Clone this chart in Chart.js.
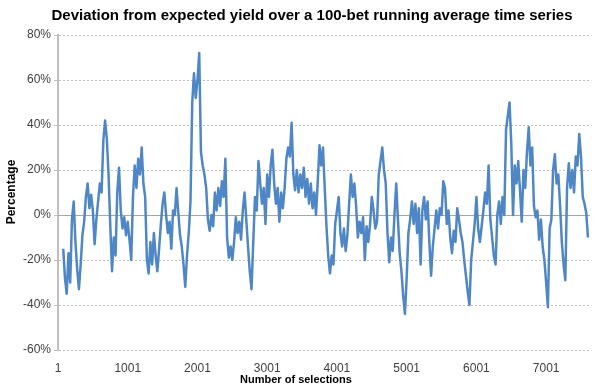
<!DOCTYPE html>
<html>
<head>
<meta charset="utf-8">
<script src="https://cdn.jsdelivr.net/npm/chart.js@4/dist/chart.umd.min.js"></script>
<style>
    html, body { margin: 0; padding: 0; background: #fff; }
    #chart { display: block; }
</style>
</head>
<body>
<canvas id="chart" width="600" height="390"></canvas>
<script>
// 100-bet running average, one reading every 25 selections starting at selection 76
const firstSelection = 76;
const selectionStep = 25;
const deviation = [
    -15, -28, -35, -17, -30, -2, 6, -12, -24, -33,
    -22, -9, -3, 8, 14, 3, 9, 2, -13, -2,
    6, 14, 10, 33, 42, 34, 18, -5, -25, -10,
    -18, 10, 21, 2, -6, -1, -9, -3, -11, -20,
    8, 22, 12, 25, 18, 30, 14, 8, -20, -26,
    -12, -22, -8, -18, -25, -15, -4, 5, 10, 0,
    -8, -3, -15, 2, 0, 12, 1, -9, -14, -22,
    -32, -18, -8, 6, 50, 63, 52, 60, 72, 28,
    22, 18, 12, -2, -7, 0, -5, 10, 2, 12,
    4, 15, 8, 25, -10, -19, -14, -20, -12, -1,
    -8, -3, -11, 2, 10, -2, -14, -25, -33, -12,
    8, 2, 24, 14, 5, 12, -4, 18, 8, 22,
    29, 14, 5, 12, -3, 10, 3, 12, 25, 30,
    26, 41, 18, 11, 20, 10, 18, 12, 21, 8,
    16, 5, 14, 3, 10, 0, 15, 31, 22, 30,
    12, -5, -18, -26, -18, -22, -4, 2, 8, -8,
    -14, -6, -16, -9, 5, 18, 8, 14, 4, -10,
    -3, -8, -1, -20, -5, -12, -4, 8, 2, -6,
    -3, 18, 24, 30, 20, 14, -8, -21, -10, -16,
    0, 14, -2, -17, -25, -36, -44, -28, -8, -2,
    6, -4, 5, -8, 3, -22, 2, 8, -2, 6,
    -12, -27, -14, -6, 2, -6, 3, 0, 15, 12,
    -4, 2, -10, -17, -7, -12, 3, -2, -8, -12,
    -20, -27, -34, -40, -20, -12, -4, 8, -6, -12,
    -5, 2, 10, 5, 22, -2, -10, -18, -22, 0,
    6, -4, 8, 0, 38, 44, 50, 32, 0, 22,
    14, 24, 11, -3, 20, 12, 28, 39, 22, 30,
    4, -1, 2, -11, -2, -14, -20, -30, -41, -6,
    -2, 20, 27, 14, 18, 4, -12, -22, -29, 12,
    23, 12, 20, 10, 26, 22, 36, 26, 8, 5,
    1, -10
];
const xTickValues = [1, 1001, 2001, 3001, 4001, 5001, 6001, 7001];
const yTickValues = [-60, -40, -20, 0, 20, 40, 60, 80];
const lastCategory = 7630;

const chartTitle = 'Deviation from expected yield over a 100-bet running average time series';
const xTitle = 'Number of selections';
const yTitle = 'Percentage';

const points = deviation.map((v, i) => ({ x: firstSelection + i * selectionStep, y: v }));

const LABEL_FONT = '"Liberation Sans", Arial, Helvetica, sans-serif';
const GRID_GREY = '#bfbfbf';

// titles are placed the way the spreadsheet placed them, not centred on the plot
const titlesPlugin = {
    id: 'titles',
    afterDraw(chart) {
        const ctx = chart.ctx;
        ctx.save();
        ctx.fillStyle = '#000';
        ctx.textAlign = 'center';
        ctx.textBaseline = 'middle';
        ctx.font = 'bold 15px ' + LABEL_FONT;
        ctx.fillText(chartTitle, 312, 16);
        ctx.font = 'bold 11px ' + LABEL_FONT;
        ctx.fillText(xTitle, 296, 380);
        ctx.font = 'bold 12px ' + LABEL_FONT;
        ctx.translate(12, 192);
        ctx.rotate(-Math.PI / 2);
        ctx.fillText(yTitle, 0, 0);
        ctx.restore();
    }
};

// x axis crosses at 0%
const zeroLinePlugin = {
    id: 'zeroLine',
    beforeDatasetsDraw(chart) {
        const { ctx, chartArea, scales } = chart;
        const y = Math.round(scales.y.getPixelForValue(0)) + 0.5;
        ctx.save();
        ctx.strokeStyle = '#a6a6a6';
        ctx.lineWidth = 1;
        ctx.beginPath();
        ctx.moveTo(chartArea.left, y);
        ctx.lineTo(chartArea.right, y);
        ctx.stroke();
        ctx.restore();
    }
};

new Chart(document.getElementById('chart'), {
    type: 'line',
    data: {
        datasets: [
            {
                label: 'Deviation',
                data: points,
                borderColor: '#4f87c6',
                backgroundColor: '#4f87c6',
                borderWidth: 2.5,
                pointRadius: 0,
                tension: 0,
                borderJoinStyle: 'round'
            }
        ]
    },
    options: {
        responsive: false,
        animation: false,
        devicePixelRatio: 1,
        layout: {
            padding: { top: 35, right: 10, bottom: 0, left: 0 }
        },
        scales: {
            x: {
                type: 'linear',
                min: 1,
                max: lastCategory,
                afterBuildTicks: scale => {
                    scale.ticks = xTickValues.map(v => ({ value: v }));
                },
                afterFit: scale => {
                    scale.height = 40;
                },
                grid: { display: false, drawTicks: false },
                border: { display: false },
                ticks: {
                    padding: 11,
                    color: '#404040',
                    font: { family: LABEL_FONT, size: 12 },
                    callback: v => String(v),
                    maxRotation: 0,
                    autoSkip: false
                }
            },
            y: {
                min: -60,
                max: 80,
                afterBuildTicks: scale => {
                    scale.ticks = yTickValues.map(v => ({ value: v }));
                },
                afterFit: scale => {
                    scale.width = 58;
                },
                grid: {
                    color: GRID_GREY,
                    lineWidth: 1,
                    tickLength: 4,
                    tickColor: GRID_GREY
                },
                border: {
                    color: GRID_GREY,
                    width: 2,
                    dash: [2, 2]
                },
                ticks: {
                    padding: 3,
                    color: '#404040',
                    font: { family: LABEL_FONT, size: 12 },
                    callback: v => v + '%'
                }
            }
        },
        plugins: {
            legend: { display: false },
            title: { display: false },
            tooltip: { enabled: false }
        }
    },
    plugins: [zeroLinePlugin, titlesPlugin]
});
</script>
</body>
</html>
